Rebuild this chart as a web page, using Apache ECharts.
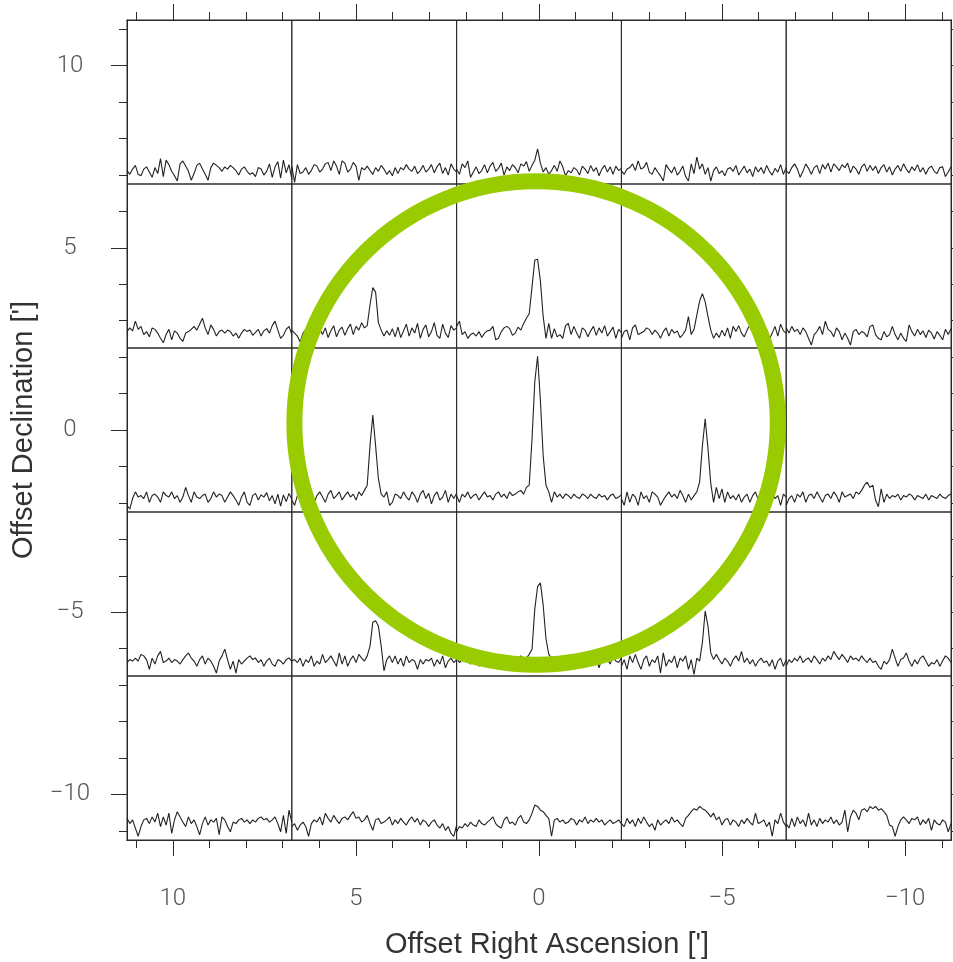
<!DOCTYPE html>
<html>
<head>
<meta charset="utf-8">
<script src="https://cdn.jsdelivr.net/npm/echarts@6/dist/echarts.min.js"></script>
<style>
  html, body { margin: 0; padding: 0; background: #ffffff; }
  #chart { width: 953px; height: 962px; }
</style>
</head>
<body>
<div id="chart"></div>
<script>
// Pointing offsets of the 5x5 map (arcmin); columns run east to west, rows north to south
const raOffsets = [9, 4.5, 0, -4.5, -9];
const decOffsets = [9, 4.5, 0, -4.5, -9];
const cellHalfWidth = 2.25;

// Axis ticks (arcmin)
const majorTicks = [-10, -5, 0, 5, 10];
const minorTicks = [-11, -10, -9, -8, -7, -6, -5, -4, -3, -2, -1, 0, 1, 2, 3, 4, 5, 6, 7, 8, 9, 10, 11];

// Beam outline: centre and radius (arcmin)
const beamCenter = [0.08, 0.19];
const beamRadius = 6.6;

// Spectra (antenna temperature, K) per pointing, one row of the map per array
const specRow1 = [
  [-0.02,-0.07,0.00,0.05,-0.07,-0.09,0.00,0.03,-0.04,-0.11,
   0.02,-0.06,0.14,-0.10,0.12,0.06,-0.03,-0.09,-0.16,0.07,
   0.11,0.04,-0.03,-0.15,-0.06,0.05,0.08,0.00,-0.07,-0.15,
   0.02,0.08,0.05,0.02,-0.03,0.03,0.00,0.05,0.02,-0.02,
   -0.08,0.00,0.03,-0.03,-0.07,-0.05,-0.10,0.02,0.00,-0.08,
   -0.03,0.07,-0.11,0.03,0.10,-0.12,0.12,-0.05,0.06,-0.13],
  [0.04,-0.18,0.06,-0.06,-0.04,0.02,-0.07,-0.02,0.06,0.04,
   -0.04,0.00,0.07,0.09,-0.02,0.11,0.04,-0.07,0.11,0.08,
   -0.04,0.00,0.09,0.04,-0.15,0.02,-0.01,0.04,-0.02,-0.07,
   0.02,-0.03,0.05,0.00,-0.07,-0.02,-0.09,0.02,-0.06,0.02,
   -0.01,0.06,0.00,-0.03,0.04,-0.06,-0.02,0.05,-0.04,0.00,
   0.06,-0.05,0.03,0.08,-0.06,0.02,-0.08,0.07,0.00,-0.04],
  [0.00,-0.07,0.07,0.02,0.11,-0.11,-0.04,0.03,-0.06,-0.02,
   0.06,-0.05,0.04,0.09,-0.03,0.01,0.08,-0.08,0.03,-0.02,
   0.06,0.02,-0.05,0.07,0.04,0.10,-0.03,0.05,0.12,0.27,
   0.08,-0.04,0.02,-0.07,-0.02,0.05,-0.03,0.11,0.03,-0.09,
   -0.02,-0.05,0.02,-0.01,-0.08,0.04,0.00,-0.06,0.05,-0.03,
   0.02,-0.09,0.00,0.05,-0.04,0.03,-0.07,0.04,-0.02,0.01],
  [-0.02,-0.07,0.00,0.02,0.07,-0.02,0.11,0.00,0.02,0.09,
   -0.04,-0.07,0.02,-0.04,-0.09,-0.16,0.06,0.00,-0.05,0.03,
   -0.08,-0.03,0.04,-0.10,-0.16,0.07,-0.06,0.16,0.00,0.07,
   -0.07,0.02,-0.16,-0.02,0.03,-0.06,-0.02,-0.09,0.00,0.02,
   -0.03,0.05,-0.08,-0.02,0.04,-0.05,0.00,-0.10,0.03,-0.04,
   0.02,-0.06,0.05,-0.03,-0.08,0.01,-0.04,0.06,-0.07,0.02],
  [-0.02,-0.06,0.02,0.07,0.00,-0.11,-0.03,0.07,0.01,-0.07,
   0.02,0.05,-0.06,0.06,0.00,0.08,-0.04,0.07,0.03,-0.02,
   0.06,0.02,0.08,-0.05,0.04,0.00,-0.07,0.03,0.07,-0.03,
   0.05,-0.02,0.04,-0.06,0.02,0.06,-0.04,0.03,-0.08,0.00,
   0.05,-0.03,0.07,0.00,-0.05,0.03,-0.02,0.06,-0.04,0.02,
   -0.07,0.01,0.04,-0.03,-0.06,0.02,0.03,-0.10,-0.04,0.03]
];

const specRow2 = [
  [0.02,0.07,0.03,0.16,0.05,0.09,-0.02,0.02,-0.05,0.07,
   0.05,0.00,-0.07,-0.13,-0.02,0.05,-0.09,0.03,0.00,-0.07,
   -0.11,0.00,0.02,0.05,0.09,0.04,0.12,0.20,0.07,-0.02,
   0.11,0.05,-0.04,0.02,0.04,0.00,0.04,0.02,-0.04,0.00,
   -0.07,0.00,0.05,0.02,0.04,-0.03,0.01,0.05,-0.04,0.03,
   0.06,0.00,0.10,0.16,0.04,-0.07,-0.03,0.05,0.09,-0.02],
  [0.04,0.00,-0.04,-0.12,0.00,0.05,-0.06,0.02,-0.09,-0.04,
   0.05,-0.02,0.07,-0.06,0.03,0.10,-0.05,0.04,0.08,-0.03,
   0.06,0.12,-0.02,0.09,0.04,0.14,0.07,0.10,0.38,0.61,
   0.55,0.14,0.04,-0.04,0.03,-0.03,0.06,-0.05,0.08,-0.06,
   0.03,0.12,-0.04,0.07,0.00,0.13,-0.07,0.05,0.11,-0.05,
   0.02,0.14,-0.03,-0.07,0.12,0.00,-0.06,0.10,0.04,0.07],
  [0.09,0.16,-0.02,0.02,-0.07,-0.02,0.00,-0.04,0.02,-0.06,
   0.00,0.03,0.04,0.09,-0.09,-0.07,0.02,0.07,0.09,0.06,
   -0.03,0.00,0.08,0.04,0.13,0.20,0.26,0.62,0.98,0.99,
   0.70,0.22,-0.07,0.13,-0.07,0.06,-0.05,-0.02,-0.07,0.10,
   0.13,-0.02,0.09,0.00,-0.07,0.07,0.04,-0.05,0.03,0.09,
   -0.03,0.07,0.00,0.10,-0.04,0.02,0.08,-0.07,0.05,0.01],
  [-0.07,0.02,0.04,-0.09,0.07,0.11,-0.02,0.00,0.02,0.07,
   0.05,-0.02,0.04,0.00,-0.07,0.02,0.07,-0.04,0.05,0.00,
   0.03,-0.06,-0.02,0.04,0.22,-0.02,0.05,0.24,0.43,0.53,
   0.42,0.22,0.04,-0.07,0.00,-0.06,0.04,-0.04,0.07,-0.07,
   0.09,0.02,0.10,0.00,-0.05,0.04,0.11,0.06,-0.07,0.02,
   0.09,-0.03,0.05,-0.08,0.00,0.09,-0.04,0.12,0.03,0.00],
  [0.07,0.00,0.09,0.02,0.05,-0.02,0.07,0.02,-0.07,-0.16,
   -0.02,0.02,0.09,-0.02,0.16,0.05,0.02,-0.05,0.07,0.02,
   -0.09,0.00,-0.07,-0.16,0.02,0.05,-0.02,0.02,0.00,-0.05,
   0.09,0.11,-0.02,-0.07,-0.09,0.02,-0.05,-0.02,0.09,-0.02,
   -0.09,0.00,-0.07,-0.11,0.11,0.02,-0.04,0.05,-0.02,0.03,
   -0.06,0.04,0.00,-0.08,0.02,-0.03,-0.09,0.05,-0.02,0.06]
];

const specRow3 = [
  [-0.11,-0.16,-0.02,0.07,0.00,0.02,-0.02,0.07,-0.07,0.02,
   0.04,0.00,-0.07,0.07,0.02,0.00,0.07,-0.02,0.02,-0.07,
   0.00,0.13,0.02,-0.07,0.07,0.00,-0.02,0.02,0.04,-0.07,
   -0.02,0.07,0.00,0.04,0.02,-0.07,0.00,0.07,0.02,-0.04,
   -0.11,0.00,0.07,-0.07,-0.11,0.02,0.05,-0.04,0.03,0.00,
   0.06,-0.05,0.02,-0.09,0.04,-0.12,0.03,-0.06,0.05,-0.03],
  [-0.04,-0.11,0.02,0.07,0.00,-0.07,0.02,0.07,-0.07,0.02,
   0.07,0.00,-0.07,0.04,0.09,-0.02,0.02,0.07,-0.04,0.02,
   0.07,0.00,0.04,-0.04,0.07,0.02,0.09,0.16,0.69,1.10,
   0.69,0.25,0.04,0.00,0.07,-0.11,-0.07,0.04,0.02,-0.02,
   0.07,0.00,-0.04,0.07,0.02,-0.07,0.04,0.09,-0.02,0.05,
   -0.09,0.02,0.07,-0.04,0.00,0.09,-0.07,0.04,-0.02,0.05],
  [0.02,-0.07,0.04,0.00,0.07,-0.02,0.02,0.04,-0.04,0.02,
   0.07,0.00,0.02,-0.04,0.04,0.07,0.00,0.04,-0.02,0.07,
   0.02,0.04,0.07,0.09,0.04,0.13,0.16,0.78,1.55,1.89,
   1.30,0.55,0.16,0.07,-0.07,0.07,0.00,0.04,-0.02,0.04,
   0.02,-0.02,0.04,0.00,-0.02,0.04,0.02,-0.02,0.04,0.00,
   -0.02,0.04,0.00,0.02,-0.04,0.02,0.04,-0.02,0.00,0.03],
  [-0.02,-0.11,0.07,-0.07,0.04,0.00,-0.11,0.07,-0.02,0.02,
   -0.07,0.07,0.04,0.00,-0.11,-0.04,0.02,0.07,0.00,0.04,
   -0.02,0.09,0.02,-0.07,0.04,-0.04,0.02,0.07,0.20,0.69,
   1.05,0.65,0.18,-0.07,0.13,-0.02,0.11,-0.07,0.07,-0.02,
   0.02,-0.04,0.04,-0.07,0.00,0.04,-0.07,0.02,0.07,-0.04,
   0.02,0.00,-0.07,0.04,0.07,-0.02,0.02,-0.11,0.04,0.00],
  [-0.11,-0.02,0.02,-0.07,0.04,0.00,0.07,-0.07,0.02,0.04,
   -0.02,0.07,0.00,-0.07,0.02,0.04,-0.02,0.07,0.02,-0.07,
   0.07,0.00,0.02,0.04,-0.02,0.07,0.04,0.09,0.16,0.20,
   0.13,0.16,-0.04,-0.13,0.11,-0.07,0.04,-0.02,0.02,0.00,
   0.04,-0.04,0.02,0.00,0.04,0.02,-0.04,0.02,0.00,-0.02,
   0.04,-0.04,0.02,0.00,-0.02,0.04,0.00,-0.02,0.02,0.04]
];

const specRow4 = [
  [-0.02,0.02,0.00,0.04,0.00,0.09,0.07,0.02,-0.11,0.04,
   -0.04,0.07,0.13,-0.02,0.00,0.04,-0.02,0.02,0.00,-0.04,
   0.02,0.07,0.11,0.04,0.00,-0.07,0.02,0.07,-0.04,0.04,
   0.00,-0.07,-0.16,0.00,0.07,0.16,0.02,-0.11,0.00,-0.16,
   0.02,-0.04,0.00,0.04,0.07,0.02,0.04,-0.02,0.02,-0.07,
   0.00,0.04,-0.04,-0.07,0.02,0.00,-0.04,0.02,0.04,0.00],
  [0.00,0.02,-0.02,0.04,-0.07,0.02,-0.02,0.07,-0.07,0.00,
   -0.04,0.09,-0.02,0.02,0.07,0.00,-0.07,0.11,-0.04,0.07,
   -0.07,0.02,0.07,-0.02,0.09,0.04,0.00,0.07,0.20,0.52,
   0.54,0.47,0.20,-0.13,0.02,0.07,-0.02,0.07,-0.04,0.04,
   -0.07,0.07,-0.02,0.02,0.00,-0.11,0.02,-0.04,0.02,0.00,
   0.04,-0.07,0.02,-0.04,0.07,-0.09,0.00,0.04,-0.02,0.02],
  [0.04,-0.02,0.02,0.07,0.00,-0.04,0.04,0.02,-0.07,0.00,
   0.07,0.04,-0.02,0.02,0.09,0.00,-0.04,0.04,0.02,0.07,
   -0.02,0.04,0.00,0.07,0.02,0.04,0.09,0.16,0.70,1.00,
   1.05,0.75,0.30,0.09,0.04,-0.02,0.02,0.00,0.04,-0.04,
   0.02,0.07,-0.02,0.00,0.04,-0.07,0.02,0.00,-0.04,0.07,
   0.02,-0.09,0.04,0.00,0.02,-0.04,0.07,0.00,-0.02,0.04],
  [-0.07,0.02,-0.11,0.07,-0.02,0.09,-0.02,-0.11,0.02,0.07,
   -0.07,0.02,-0.02,0.07,-0.16,0.11,-0.07,0.02,-0.02,0.07,
   -0.09,0.04,0.00,0.07,-0.11,0.02,-0.18,0.04,0.00,0.25,
   0.67,0.47,0.11,0.02,0.09,0.02,-0.04,0.04,0.00,-0.07,
   0.02,0.07,0.00,0.13,-0.02,0.04,-0.04,0.02,-0.07,0.00,
   0.04,-0.02,0.00,-0.07,0.02,-0.11,0.00,0.04,-0.07,0.02],
  [-0.07,0.02,-0.02,0.04,0.00,0.07,-0.02,0.02,0.04,-0.02,
   0.07,0.02,-0.04,0.04,0.00,0.07,0.02,0.13,0.07,0.02,
   0.09,0.04,-0.02,0.07,0.02,0.04,0.00,0.07,0.02,-0.02,
   0.04,-0.02,0.00,-0.07,-0.11,0.00,-0.04,0.02,0.16,0.04,
   -0.07,0.02,0.04,0.11,0.00,-0.07,0.02,-0.04,0.04,0.07,
   0.00,-0.07,-0.02,-0.04,0.02,-0.07,0.00,0.07,0.04,-0.02]
];

const specRow5 = [
  [0.09,0.02,0.07,-0.04,-0.15,-0.02,0.07,0.09,0.02,0.11,
   0.04,0.16,-0.02,0.11,0.00,0.16,-0.11,0.07,0.18,0.11,
   0.04,-0.02,0.11,0.02,0.07,-0.02,-0.13,0.02,0.11,0.00,
   0.07,0.04,0.09,-0.13,0.11,0.07,-0.02,-0.09,0.04,0.02,
   0.07,0.09,0.04,0.07,0.02,0.07,0.04,0.09,0.11,0.07,
   0.09,0.04,0.07,0.11,0.02,-0.09,0.13,-0.11,0.20,0.04],
  [-0.02,0.02,-0.07,0.00,0.04,-0.02,-0.15,0.02,0.07,0.04,
   0.11,0.00,0.16,0.09,0.04,0.13,0.07,0.02,0.09,0.11,
   0.07,0.13,0.18,0.09,0.11,0.04,0.07,0.13,0.02,-0.07,
   0.07,0.09,0.02,0.04,0.07,0.11,0.00,0.07,0.02,0.09,
   0.04,0.00,0.07,0.11,0.04,0.09,0.00,0.07,0.04,-0.02,
   0.04,0.07,0.00,-0.04,0.02,-0.07,-0.02,-0.11,-0.15,0.00],
  [-0.09,-0.02,-0.04,0.02,-0.02,0.04,0.00,-0.02,0.07,0.02,
   0.00,0.04,0.07,0.11,0.02,-0.02,-0.04,0.07,0.11,0.02,
   0.04,0.00,0.09,0.13,0.04,0.02,0.07,0.16,0.27,0.25,
   0.20,0.18,0.13,0.09,-0.15,0.07,0.09,0.04,0.07,0.02,
   0.04,0.09,0.07,0.00,0.07,0.04,0.11,0.02,0.07,0.04,
   0.09,0.04,0.07,0.00,0.04,0.07,0.02,0.04,0.07,0.02],
  [0.02,-0.02,0.09,0.02,0.07,-0.02,0.09,0.02,0.11,0.04,
   -0.02,0.02,-0.07,0.07,0.00,0.04,0.07,0.02,0.11,0.04,
   0.07,0.02,-0.02,0.09,0.13,0.18,0.22,0.20,0.25,0.22,
   0.20,0.16,0.11,0.16,0.07,0.11,0.00,0.07,0.09,0.00,
   0.07,0.04,-0.02,0.07,0.02,0.09,0.04,0.00,0.16,0.02,
   0.04,0.07,-0.02,0.04,-0.15,0.07,0.02,0.16,0.04,-0.02],
  [0.02,-0.04,0.09,-0.02,0.11,0.02,0.07,-0.02,0.16,0.00,
   0.07,-0.02,0.09,0.02,0.07,0.04,0.11,0.02,0.07,0.00,
   0.04,0.20,-0.09,0.11,0.20,0.16,0.07,0.20,0.22,0.18,
   0.25,0.22,0.25,0.20,0.22,0.18,0.13,0.00,-0.02,-0.15,
   -0.02,0.07,0.11,0.07,0.02,0.09,0.07,0.11,0.00,0.07,
   0.02,0.09,-0.07,0.07,0.02,0.00,0.07,0.04,-0.09,0.02]
];

const spectraRows = [specRow1, specRow2, specRow3, specRow4, specRow5];
const tempRange = [-0.2, 2.0];   // temperature scale shared by every panel

const chart = echarts.init(document.getElementById('chart'), null, { renderer: 'canvas' });

const plot = { left: 127, top: 20, width: 824, height: 820 };
const frameColor = '#2b2b2b';
const tickFont = { fontFamily: 'Roboto', fontWeight: 300, fontSize: 24, color: '#555555' };
const titleFont = { fontFamily: 'Liberation Sans', fontSize: 29, color: '#333333' };

function fmt(v) {
  return v < 0 ? '\u2212' + Math.abs(v) : String(v);
}

function frameGrid() {
  return Object.assign({ containLabel: false, outerBoundsMode: 'none' }, plot);
}

function offsetAxis(kind, position, ticks, tickLen, labelled) {
  const isX = kind === 'x';
  const ax = {
    type: 'value',
    gridIndex: 0,
    position: position,
    min: -11.25,
    max: 11.25,
    inverse: isX,
    axisLine: { show: true, onZero: false, lineStyle: { color: frameColor, width: 1 } },
    axisTick: { show: true, inside: false, length: tickLen, customValues: ticks,
                lineStyle: { color: frameColor, width: 1 } },
    axisLabel: Object.assign({ show: labelled, customValues: ticks, formatter: fmt,
                               margin: isX ? 47 : 57, align: 'center' }, tickFont),
    splitLine: { show: false },
    axisPointer: { show: false },
    silent: true
  };
  if (labelled) {
    ax.name = isX ? "Offset Right Ascension [']" : "Offset Declination [']";
    ax.nameLocation = 'middle';
    ax.nameGap = isX ? 90 : 86;
    ax.nameTextStyle = Object.assign({ padding: isX ? [0, 0, 0, 16] : 0 }, titleFont);
  }
  return ax;
}

const outerX = [
  offsetAxis('x', 'bottom', majorTicks, 16, true),
  offsetAxis('x', 'bottom', minorTicks, 8, false),
  offsetAxis('x', 'top', majorTicks, 16, false),
  offsetAxis('x', 'top', minorTicks, 8, false)
];
const outerY = [
  offsetAxis('y', 'left', majorTicks, 16, true),
  offsetAxis('y', 'left', minorTicks, 8, false),
  offsetAxis('y', 'right', majorTicks, 16, false),
  offsetAxis('y', 'right', minorTicks, 8, false)
];

chart.setOption({
  animation: false,
  backgroundColor: '#ffffff',
  grid: [frameGrid()],
  xAxis: outerX,
  yAxis: outerY,
  series: []
});

// Place one small panel per pointing, using the offset axes for its edges
const grids = [frameGrid()];
const xAxes = outerX.slice();
const yAxes = outerY.slice();
const series = [];

decOffsets.forEach(function (dec, r) {
  raOffsets.forEach(function (ra, c) {
    const spec = spectraRows[r][c];
    const p1 = chart.convertToPixel({ xAxisIndex: 0 }, ra + cellHalfWidth);
    const p2 = chart.convertToPixel({ xAxisIndex: 0 }, ra - cellHalfWidth);
    const q1 = chart.convertToPixel({ yAxisIndex: 0 }, dec + cellHalfWidth);
    const q2 = chart.convertToPixel({ yAxisIndex: 0 }, dec - cellHalfWidth);
    const idx = grids.length;
    grids.push({
      left: Math.min(p1, p2), top: Math.min(q1, q2),
      width: Math.abs(p2 - p1), height: Math.abs(q2 - q1),
      containLabel: false, outerBoundsMode: 'none',
      show: true, borderColor: frameColor, borderWidth: 1, backgroundColor: 'transparent'
    });
    xAxes.push({ type: 'value', gridIndex: idx, min: 0, max: spec.length - 1, show: false });
    yAxes.push({ type: 'value', gridIndex: idx, min: tempRange[0], max: tempRange[1], show: false });
    series.push({
      type: 'line',
      xAxisIndex: xAxes.length - 1,
      yAxisIndex: yAxes.length - 1,
      data: spec.map(function (v, i) { return [i, v]; }),
      symbol: 'none',
      clip: false,
      silent: true,
      lineStyle: { color: '#222222', width: 1.1 },
      z: 3
    });
  });
});

const cPx = chart.convertToPixel({ xAxisIndex: 0, yAxisIndex: 0 }, beamCenter);
const ePx = chart.convertToPixel({ xAxisIndex: 0, yAxisIndex: 0 }, [beamCenter[0] - beamRadius, beamCenter[1]]);
const rPx = Math.abs(ePx[0] - cPx[0]);

chart.setOption({
  animation: false,
  backgroundColor: '#ffffff',
  grid: grids,
  xAxis: xAxes,
  yAxis: yAxes,
  series: series,
  graphic: [{
    type: 'circle',
    shape: { cx: cPx[0], cy: cPx[1], r: rPx },
    style: { fill: 'none', stroke: '#99cc00', lineWidth: 16 },
    silent: true,
    z: 100
  }]
}, true);
</script>
</body>
</html>
